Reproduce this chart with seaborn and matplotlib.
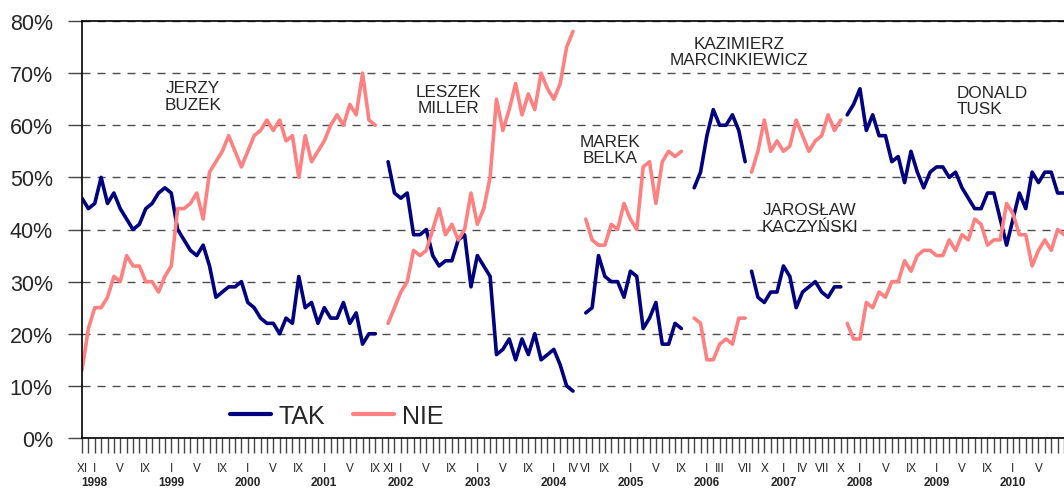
import pandas as pd
import seaborn as sns
import matplotlib.pyplot as plt
import matplotlib.transforms as mtransforms

# survey results, % of answers, one value per month, per government
buzek_start = "1997-11"
buzek_tak = [46, 44, 45, 50, 45, 47, 44, 42, 40, 41, 44, 45, 47, 48, 47, 40, 38, 36, 35, 37,
             33, 27, 28, 29, 29, 30, 26, 25, 23, 22, 22, 20, 23, 22, 31, 25, 26, 22, 25, 23,
             23, 26, 22, 24, 18, 20, 20]
buzek_nie = [13, 21, 25, 25, 27, 31, 30, 35, 33, 33, 30, 30, 28, 31, 33, 44, 44, 45, 47, 42,
             51, 53, 55, 58, 55, 52, 55, 58, 59, 61, 59, 61, 57, 58, 50, 58, 53, 55, 57, 60,
             62, 60, 64, 62, 70, 61, 60]

miller_start = "2001-11"
miller_tak = [53, 47, 46, 47, 39, 39, 40, 35, 33, 34, 34, 38, 39, 29, 35, 33, 31, 16, 17, 19,
              15, 19, 16, 20, 15, 16, 17, 14, 10, 9]
miller_nie = [22, 25, 28, 30, 36, 35, 36, 40, 44, 39, 41, 38, 40, 47, 41, 44, 50, 65, 59, 63,
              68, 62, 66, 63, 70, 67, 65, 68, 75, 78]

belka_start = "2004-06"
belka_tak = [24, 25, 35, 31, 30, 30, 27, 32, 31, 21, 23, 26, 18, 18, 22, 21]
belka_nie = [42, 38, 37, 37, 41, 40, 45, 42, 40, 52, 53, 45, 53, 55, 54, 55]

marc_start = "2005-11"
marc_tak = [48, 51, 58, 63, 60, 60, 62, 59, 53]
marc_nie = [23, 22, 15, 15, 18, 19, 18, 23, 23]

kacz_start = "2006-08"
kacz_tak = [32, 27, 26, 28, 28, 33, 31, 25, 28, 29, 30, 28, 27, 29, 29]
kacz_nie = [51, 55, 61, 55, 57, 55, 56, 61, 58, 55, 57, 58, 62, 59, 61]

tusk_start = "2007-11"
tusk_tak = [62, 64, 67, 59, 62, 58, 58, 53, 54, 49, 55, 51, 48, 51, 52, 52, 50, 51, 48, 46,
            44, 44, 47, 47, 42, 37, 42, 47, 44, 51, 49, 51, 51, 47, 47]
tusk_nie = [22, 19, 19, 26, 25, 28, 27, 30, 30, 34, 32, 35, 36, 36, 35, 35, 38, 36, 39, 38,
            42, 41, 37, 38, 38, 45, 43, 39, 39, 33, 36, 38, 36, 40, 39]

# month labels on the axis
tick_months = ["1997-11", "1998-01", "1998-05", "1998-09", "1999-01", "1999-05", "1999-09",
               "2000-01", "2000-05", "2000-09", "2001-01", "2001-05", "2001-09", "2001-11",
               "2002-01", "2002-05", "2002-09", "2003-01", "2003-05", "2003-09",
               "2004-01", "2004-04", "2004-06", "2004-09", "2005-01", "2005-05", "2005-09",
               "2006-01", "2006-03", "2006-07", "2006-10", "2007-01", "2007-04", "2007-07",
               "2007-10", "2008-01", "2008-05", "2008-09", "2009-01", "2009-05", "2009-09",
               "2010-01", "2010-05"]
years = list(range(1998, 2011))
roman = ["I", "II", "III", "IV", "V", "VI", "VII", "VIII", "IX", "X", "XI", "XII"]

labels = [("JERZY\nBUZEK", 17.4, 65.6, "center"),
          ("LESZEK\nMILLER", 57.5, 65.0, "center"),
          ("MAREK\nBELKA", 82.8, 55.3, "center"),
          ("KAZIMIERZ\nMARCINKIEWICZ", 103.0, 74.1, "center"),
          ("JAROSŁAW\nKACZYŃSKI", 114.1, 42.2, "center"),
          ("DONALD\nTUSK", 137.1, 64.8, "left")]


def month_idx(s):
    y, m = s.split("-")
    return (int(y) - 1997) * 12 + int(m) - 11


govts = {
    "Buzek": (buzek_start, buzek_tak, buzek_nie),
    "Miller": (miller_start, miller_tak, miller_nie),
    "Belka": (belka_start, belka_tak, belka_nie),
    "Marcinkiewicz": (marc_start, marc_tak, marc_nie),
    "Kaczynski": (kacz_start, kacz_tak, kacz_nie),
    "Tusk": (tusk_start, tusk_tak, tusk_nie),
}

rows = []
for name, (start, tak, nie) in govts.items():
    i0 = month_idx(start)
    for k, v in enumerate(tak):
        rows.append({"month": i0 + k, "value": v, "series": "TAK", "govt": name})
    for k, v in enumerate(nie):
        rows.append({"month": i0 + k, "value": v, "series": "NIE", "govt": name})
df = pd.DataFrame(rows)

sns.set_style("white")
plt.rcParams["font.family"] = ["Liberation Sans", "DejaVu Sans"]

fig = plt.figure(figsize=(10.64, 4.89), dpi=100)
ax = fig.add_axes([82 / 1064, 50 / 489, 982 / 1064, 417 / 489])

sns.lineplot(data=df, x="month", y="value", hue="series", units="govt", estimator=None,
             hue_order=["TAK", "NIE"], palette={"TAK": "#000080", "NIE": "#FF8080"},
             linewidth=2.6, ax=ax)

ax.set_xlim(0, 154)
ax.set_ylim(0, 80)
ax.set_xlabel("")
ax.set_ylabel("")

# y axis
ax.set_yticks(range(0, 81, 10))
ax.set_yticklabels([f"{v}%" for v in range(0, 81, 10)], fontsize=15.5)
ax.tick_params(axis="y", length=10, width=1, color="#444444", pad=11, direction="out", left=True)
ax.yaxis.grid(True, color="#4d4d4d", linestyle=(0, (5.8, 5)), linewidth=1)
ax.set_axisbelow(True)

# x axis: a tick every month, roman labels on some, years under January
ax.set_xticks(range(0, 155), minor=True)
ax.set_xticks([month_idx(m) for m in tick_months])
ax.set_xticklabels([roman[int(m.split("-")[1]) - 1] for m in tick_months], fontsize=8.5)
ax.tick_params(axis="x", which="both", length=11, width=1, color="#444444", direction="out",
               bottom=True, pad=6)
trans = mtransforms.blended_transform_factory(ax.transData, ax.transAxes)
for yr in years:
    ax.text(month_idx(f"{yr}-01"), -0.105, str(yr), transform=trans, ha="center", va="center",
            fontsize=8.5, fontweight="bold")

for sp in ["left", "bottom", "top"]:
    ax.spines[sp].set_color("black")
    ax.spines[sp].set_linewidth(1.2)
ax.spines["right"].set_visible(False)

for text, x, y, ha in labels:
    ax.text(x, y, text, ha=ha, va="center", ma=ha, fontsize=12.3, linespacing=1.1)

sns.move_legend(ax, "center left", bbox_to_anchor=((230 - 82) / 982, 22 / 417), ncol=2,
                frameon=False, title=None, fontsize=18, handlelength=1.65, handletextpad=0.3,
                columnspacing=1.1, borderpad=0, borderaxespad=0)
for h in ax.get_legend().get_lines():
    h.set_linewidth(3)

plt.savefig("out.png", dpi=100)
